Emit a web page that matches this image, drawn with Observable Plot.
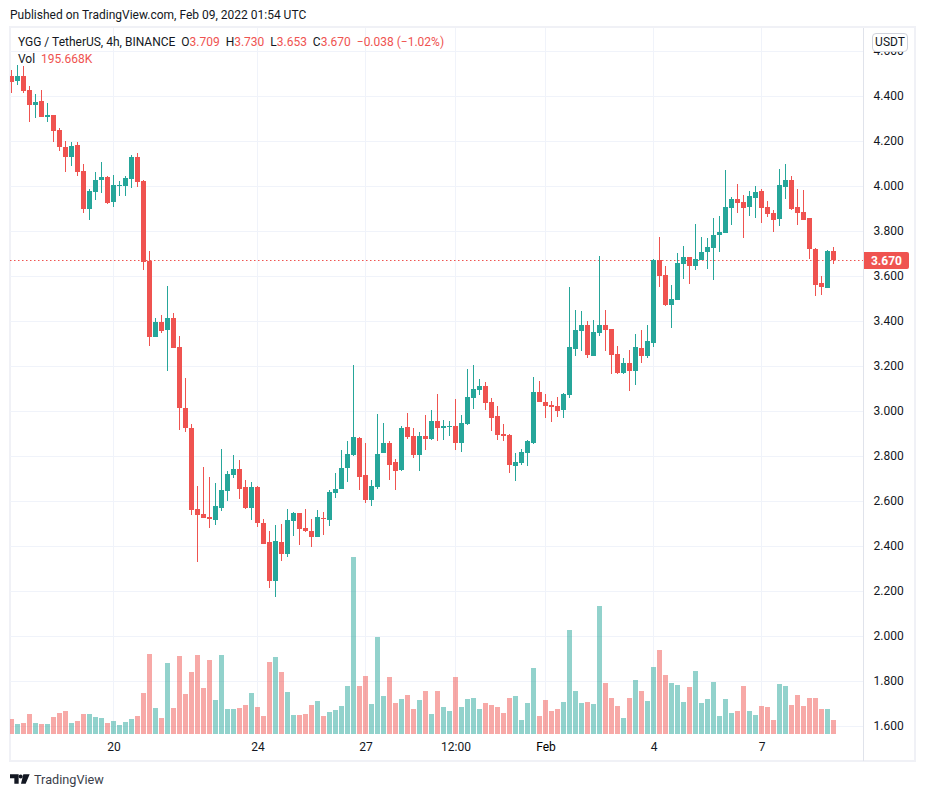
<!DOCTYPE html>
<html><head><meta charset="utf-8">
<script src="https://cdn.jsdelivr.net/npm/d3@7"></script>
<script src="https://cdn.jsdelivr.net/npm/@observablehq/plot@0.6"></script>
<style>
html,body{margin:0;padding:0;background:#fff;width:926px;height:797px;overflow:hidden;font-family:Roboto,sans-serif;color:#131722}
#wrap{position:relative;width:926px;height:797px}
#wrap svg.chart{position:absolute;left:0;top:0}
.abs{position:absolute;white-space:nowrap}
.box{position:absolute;left:9px;top:26px;width:903px;height:732px;border:2px solid #f0f1f6}
.sep{position:absolute;left:863px;top:28px;width:1px;height:733px;background:#e0e3eb}
.red{color:#ef5350}
</style></head><body>
<div id="wrap"></div>
<script>
const startTime = new Date(Date.UTC(2022,0,17,4));
const opens = [4.489,4.467,4.489,4.427,4.36,4.378,4.307,4.316,4.249,4.173,4.129,4.182,4.067,3.898,3.973,4.027,4.04,3.929,4.0,4.0,4.031,4.129,4.022,3.667,3.329,3.396,3.36,3.413,3.284,3.013,2.924,2.564,2.542,2.529,2.516,2.569,2.644,2.716,2.742,2.662,2.569,2.662,2.502,2.418,2.244,2.418,2.364,2.511,2.547,2.48,2.467,2.44,2.524,2.516,2.636,2.653,2.747,2.804,2.88,2.716,2.604,2.662,2.813,2.858,2.773,2.738,2.929,2.889,2.804,2.889,2.876,2.956,2.924,2.929,2.933,2.858,2.942,3.058,3.093,3.111,3.04,2.978,2.898,2.893,2.756,2.769,2.813,2.858,3.084,3.04,3.027,3.022,3.004,3.071,3.276,3.356,3.382,3.244,3.347,3.382,3.364,3.253,3.169,3.213,3.178,3.28,3.244,3.302,3.671,3.604,3.471,3.493,3.653,3.684,3.644,3.671,3.707,3.724,3.782,3.791,3.902,3.942,3.929,3.907,3.947,3.978,3.907,3.88,3.853,3.996,4.027,3.907,3.884,3.858,3.72,3.569,3.547,3.709];
const closes = [4.462,4.489,4.422,4.36,4.373,4.307,4.316,4.244,4.173,4.129,4.178,4.062,3.898,3.978,4.027,4.04,3.923,4.004,4.004,4.036,4.129,4.018,3.662,3.329,3.396,3.356,3.413,3.28,3.013,2.924,2.56,2.538,2.524,2.52,2.578,2.649,2.72,2.742,2.653,2.569,2.662,2.502,2.409,2.244,2.422,2.364,2.516,2.547,2.476,2.467,2.44,2.529,2.52,2.64,2.653,2.747,2.809,2.884,2.707,2.604,2.667,2.809,2.858,2.76,2.733,2.924,2.884,2.804,2.889,2.876,2.956,2.924,2.933,2.933,2.858,2.947,3.062,3.098,3.111,3.036,2.969,2.893,2.889,2.76,2.773,2.818,2.867,3.084,3.04,3.022,3.018,3.0,3.076,3.284,3.36,3.382,3.249,3.351,3.382,3.36,3.249,3.169,3.213,3.178,3.284,3.244,3.311,3.671,3.6,3.471,3.498,3.658,3.684,3.644,3.676,3.707,3.729,3.782,3.796,3.907,3.942,3.924,3.902,3.956,3.973,3.902,3.876,3.849,4.004,4.027,3.898,3.88,3.849,3.72,3.56,3.551,3.711,3.67];
const highs = [4.516,4.538,4.533,4.444,4.409,4.427,4.369,4.316,4.256,4.2,4.196,4.196,4.098,3.987,4.062,4.107,4.044,4.049,4.022,4.044,4.138,4.147,4.027,3.711,3.413,3.427,3.556,3.436,3.333,3.147,2.942,2.667,2.751,2.707,2.68,2.831,2.733,2.804,2.782,2.693,2.684,2.667,2.52,2.467,2.493,2.498,2.564,2.551,2.547,2.564,2.52,2.56,2.551,2.649,2.724,2.827,2.867,3.204,2.884,2.858,2.693,2.987,2.947,2.867,2.787,2.933,2.991,2.924,2.907,2.982,3.004,3.076,2.96,2.956,3.053,2.982,3.187,3.204,3.142,3.129,3.058,3.022,2.942,2.898,2.813,2.831,2.871,3.151,3.133,3.076,3.044,3.062,3.08,3.551,3.449,3.444,3.4,3.404,3.689,3.449,3.364,3.289,3.236,3.271,3.342,3.36,3.382,3.676,3.773,3.644,3.56,3.702,3.733,3.684,3.831,3.773,3.769,3.858,3.867,4.071,3.951,4.009,3.96,3.978,4.0,3.987,3.933,3.893,4.076,4.098,4.044,3.987,3.982,3.858,3.724,3.6,3.716,3.73];
const lows = [4.415,4.449,4.415,4.284,4.302,4.307,4.284,4.196,4.156,4.062,4.089,4.044,3.88,3.849,3.938,3.969,3.92,3.907,3.956,3.956,3.991,3.996,3.627,3.289,3.329,3.347,3.178,3.28,2.916,2.907,2.538,2.329,2.524,2.48,2.493,2.556,2.6,2.702,2.609,2.564,2.516,2.484,2.409,2.213,2.173,2.333,2.351,2.444,2.404,2.462,2.396,2.44,2.449,2.489,2.613,2.653,2.684,2.8,2.649,2.591,2.578,2.653,2.813,2.693,2.649,2.733,2.876,2.791,2.733,2.827,2.871,2.867,2.871,2.889,2.827,2.818,2.938,3.009,3.071,3.004,2.911,2.871,2.867,2.724,2.689,2.76,2.756,2.853,3.04,2.969,2.951,2.973,2.969,3.058,3.244,3.267,3.236,3.244,3.333,3.267,3.164,3.164,3.164,3.089,3.116,3.213,3.236,3.284,3.551,3.467,3.369,3.493,3.587,3.564,3.627,3.671,3.631,3.582,3.707,3.791,3.827,3.88,3.769,3.867,3.858,3.836,3.862,3.796,3.822,3.942,3.893,3.827,3.849,3.676,3.511,3.516,3.547,3.653];
const volumes = [210,140,154,280,154,140,140,238,294,321,154,182,280,280,238,224,154,182,126,168,210,252,573,1118,363,224,992,363,1090,559,867,1104,643,1034,475,1104,349,349,363,405,573,377,252,1006,1076,867,587,266,266,280,405,461,252,307,335,391,671,2474,671,811,419,1356,531,797,433,489,545,349,475,601,280,601,377,321,797,377,489,503,349,433,405,377,294,503,531,196,433,922,252,475,321,349,447,1454,601,433,447,419,1789,713,503,391,224,503,755,601,461,936,1174,825,713,685,447,657,881,433,489,727,252,489,294,321,671,321,266,391,377,196,699,671,405,545,391,503,503,349,349,195.668];
const priceTicks = [1.6,1.8,2.0,2.2,2.4,2.6,2.8,3.0,3.2,3.4,3.6,3.8,4.0,4.2,4.4,4.6];
const tickTimes = [Date.UTC(2022,0,20),Date.UTC(2022,0,24),Date.UTC(2022,0,27),Date.UTC(2022,0,29,12),Date.UTC(2022,1,1),Date.UTC(2022,1,4),Date.UTC(2022,1,7)].map(d=>new Date(d));
const tickLabels = ["20","24","27","12:00","Feb","4","7"];
const lastPrice = 3.670;

const H = 3600e3;
const up = "#26a69a", down = "#ef5350";
const candles = opens.map((o,i)=>({
  t: new Date(+startTime + i*4*H), o, c: closes[i], h: highs[i], l: lows[i], v: volumes[i]
}));
const half = 100*60e3;            // body half-width on the time axis
const colorOf = d => d.c >= d.o ? up : down;
const volBase = 1.5644;           // the volume pane's zero, on the price axis
const volK = 0.000318;            // price-axis units per thousand of volume
const labelOf = new Map(tickTimes.map((d,i)=>[+d,tickLabels[i]]));
const plainTicks = tickTimes.filter(d=>labelOf.get(+d)!=="Feb");
const febTicks = tickTimes.filter(d=>labelOf.get(+d)==="Feb");
const fmt = d => labelOf.get(+d);

const chart = Plot.plot({
  width: 926, height: 797,
  marginLeft: 10, marginRight: 63, marginTop: 28, marginBottom: 63,
  style: {fontFamily:'Roboto,sans-serif', fontSize:"12px", background:"transparent", color:"#131722"},
  x: {type:"utc", domain:[candles[0].t, candles[137].t], range:[11.5,833.5]},
  y: {type:"linear", domain:[1.6,4.6], range:[726,51], round:true},
  marks: [
    Plot.ruleY(priceTicks,{stroke:"#f0f3fa",strokeWidth:1,clip:true}),
    Plot.ruleX(tickTimes,{stroke:"#f0f3fa",strokeWidth:1,dx:-0.5}),
    Plot.rect(candles,{x1:d=>new Date(+d.t-half),x2:d=>new Date(+d.t+half),y1:()=>volBase,y2:d=>volBase+d.v*volK,fill:colorOf,fillOpacity:0.5,clip:true}),
    Plot.ruleY([lastPrice],{stroke:down,strokeWidth:1,strokeDasharray:"1.5 2.5"}),
    Plot.ruleX(candles,{x:"t",y1:"l",y2:"h",stroke:colorOf,strokeWidth:1,dx:-0.5,clip:true}),
    Plot.rect(candles,{x1:d=>new Date(+d.t-half),x2:d=>new Date(+d.t+half),y1:d=>Math.min(d.o,d.c),y2:d=>Math.max(d.o,d.c),fill:colorOf,clip:true}),
    Plot.axisY(priceTicks,{anchor:"right",tickSize:0,tickPadding:10,textAnchor:"start",tickFormat:d3.format(".3f"),label:null,fill:"#131722",fontSize:12}),
    Plot.axisX(plainTicks,{anchor:"bottom",tickSize:0,tickPadding:8,tickFormat:fmt,label:null,fill:"#131722",fontSize:12}),
    Plot.axisX(febTicks,{anchor:"bottom",tickSize:0,tickPadding:8,tickFormat:fmt,label:null,fill:"#000",fontSize:12}),
  ]
});
chart.setAttribute("class", (chart.getAttribute("class")||"")+" chart");

const wrap = document.getElementById("wrap");
wrap.innerHTML = `
<div class="box"></div>
<div class="sep"></div>
<div class="abs" style="left:10px;top:7px;font-size:12px;line-height:16px">Published on TradingView.com, Feb 09, 2022 01:54 UTC</div>`;
wrap.appendChild(chart);
const overlay = document.createElement("div");
overlay.innerHTML = `
<div class="abs" style="left:18px;top:34px;font-size:12px;line-height:17px">YGG / TetherUS, 4h, BINANCE&nbsp;&nbsp;O<span class="red">3.709</span>&nbsp;&nbsp;H<span class="red">3.730</span>&nbsp;&nbsp;L<span class="red">3.653</span>&nbsp;&nbsp;C<span class="red">3.670</span>&nbsp;&nbsp;<span class="red">−0.038 (−1.02%)</span></div>
<div class="abs" style="left:18px;top:51px;font-size:12px;line-height:17px">Vol&nbsp;&nbsp;<span class="red">195.668K</span></div>
<div class="abs" style="left:872px;top:33px;width:34px;height:17px;border:1px solid #d1d4dc;border-radius:4px;background:#fff;font-size:12px;line-height:17px;text-align:center">USDT</div>
<div class="abs" style="left:864px;top:252px;width:45px;height:17px;background:#ef5350;color:#fff;font-size:12px;font-weight:700;line-height:18px;text-align:center;border-radius:0 2px 2px 0">3.670</div>
<svg class="abs" style="left:10px;top:774px" width="20" height="10" viewBox="0 0 30 14"><path d="M0 0h13v14h-6.5v-8h-6.5z M20 0h9.5l-6 14h-7z" fill="#131722"/><circle cx="16" cy="3.2" r="3" fill="#131722"/></svg>
<div class="abs" style="left:34px;top:770px;font-size:12.7px;line-height:19px;color:#3a3e4a">TradingView</div>`;
wrap.appendChild(overlay);
</script>
</body></html>
